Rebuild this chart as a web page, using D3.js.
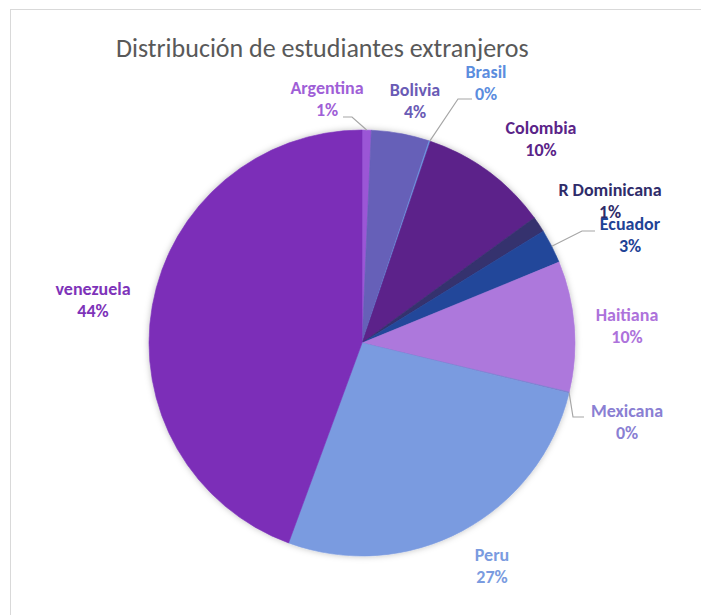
<!DOCTYPE html>
<html>
<head>
<meta charset="utf-8">
<script src="https://cdn.jsdelivr.net/npm/d3@7.9.0/dist/d3.min.js"></script>
<style>
  body { margin: 0; background: #fff; }
  svg { display: block; font-family: Carlito, Lato, "Open Sans", sans-serif; }
</style>
</head>
<body>
<div id="chart"></div>
<script>
const countries = ["Argentina", "Bolivia", "Brasil", "Colombia", "R Dominicana", "Ecuador", "Haitiana", "Mexicana", "Peru", "venezuela"];
const shares = [0.7, 4.4, 0.1, 9.8, 1.2, 2.6, 9.9, 0.1, 26.8, 44.4];
const sliceColors = ["#9b57d6", "#6660b8", "#6a93e0", "#5b228a", "#35306e", "#22479a", "#ad78dc", "#7b7fd0", "#7a9be0", "#7b2fb8"];
const labelColors = ["#9f5fd7", "#6a5bb5", "#5b8dde", "#5a2488", "#2f2c6a", "#1f4396", "#ad72db", "#8a7fd3", "#7a9be0", "#7e33b9"];

const width = 701, height = 615;
const cx = 362, cy = 343, radius = 213;

// where Excel put each label (centre of the two-line block) and the elbow of its leader
const labelLayout = {
  "Argentina":    { x: 327, y: 88 },
  "Bolivia":      { x: 415, y: 90 },
  "Brasil":       { x: 486, y: 72 },
  "Colombia":     { x: 541, y: 128 },
  "R Dominicana": { x: 610, y: 190 },
  "Ecuador":      { x: 630, y: 224 },
  "Haitiana":     { x: 627, y: 315 },
  "Mexicana":     { x: 627, y: 411 },
  "Peru":         { x: 492, y: 555 },
  "venezuela":    { x: 93,  y: 289 }
};
const leaders = {
  "Argentina": [[343, 117], [352, 117]],
  "Brasil":    [[472, 99], [458, 99]],
  "Ecuador":   [[595, 231], [582, 231]],
  "Mexicana":  [[584, 417], [573, 417]]
};

const data = countries.map((c, i) => ({ name: c, value: shares[i], color: sliceColors[i], label: labelColors[i] }));
const total = d3.sum(shares);

const svg = d3.select("#chart").append("svg")
  .attr("width", width)
  .attr("height", height);

const defs = svg.append("defs");
const shadow = defs.append("filter").attr("id", "shadow")
  .attr("x", "-20%").attr("y", "-20%").attr("width", "140%").attr("height", "140%");
shadow.append("feDropShadow")
  .attr("dx", 0).attr("dy", 0)
  .attr("stdDeviation", 3)
  .attr("flood-color", "#000")
  .attr("flood-opacity", 0.25);

// chart area border
svg.append("rect")
  .attr("x", 10.5).attr("y", 9.5)
  .attr("width", width).attr("height", height)
  .attr("fill", "none")
  .attr("stroke", "#d9d9d9");

svg.append("text")
  .attr("x", 116)
  .attr("y", 57)
  .attr("fill", "#595959")
  .style("font-size", "26px")
  .text("Distribución de estudiantes extranjeros");

const pie = d3.pie().sort(null).value(d => d.value);
const arc = d3.arc().innerRadius(0).outerRadius(radius);
const edge = d3.arc().innerRadius(radius).outerRadius(radius);

const arcs = pie(data);

const g = svg.append("g").attr("transform", `translate(${cx},${cy})`);

g.append("g")
  .attr("filter", "url(#shadow)")
  .selectAll("path")
  .data(arcs)
  .enter().append("path")
  .attr("d", arc)
  .attr("fill", d => d.data.color)
  .attr("stroke", d => d.data.color)
  .attr("stroke-width", 0.6);

// leader lines
const line = d3.line();
svg.append("g")
  .selectAll("path")
  .data(arcs.filter(d => leaders[d.data.name]))
  .enter().append("path")
  .attr("d", d => {
    const [ex, ey] = edge.centroid(d);
    return line([...leaders[d.data.name], [cx + ex, cy + ey]]);
  })
  .attr("fill", "none")
  .attr("stroke", "#a6a6a6")
  .attr("stroke-width", 1.2);

const fmt = v => Math.round(v / total * 100) + "%";

const labels = svg.append("g")
  .selectAll("text")
  .data(arcs)
  .enter().append("text")
  .attr("text-anchor", "middle")
  .attr("fill", d => d.data.label)
  .style("font-size", "18px")
  .style("font-weight", "bold");

labels.append("tspan")
  .attr("x", d => labelLayout[d.data.name].x)
  .attr("y", d => labelLayout[d.data.name].y + 6)
  .text(d => d.data.name);

labels.append("tspan")
  .attr("x", d => labelLayout[d.data.name].x)
  .attr("y", d => labelLayout[d.data.name].y + 28)
  .text(d => fmt(d.data.value));
</script>
</body>
</html>
